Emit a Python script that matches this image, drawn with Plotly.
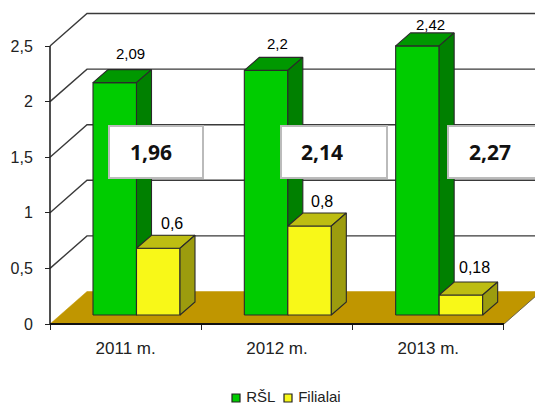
import plotly.graph_objects as go

# ---- data ----
categories = ["2011 m.", "2012 m.", "2013 m."]
rsl_values = [2.09, 2.2, 2.42]
filialai_values = [0.6, 0.8, 0.18]
box_values = ["1,96", "2,14", "2,27"]
y_ticks = [0, 0.5, 1, 1.5, 2, 2.5]
series_names = ["RŠL", "Filialai"]

# ---- geometry in page pixels ----
W, H = 535, 405
X0_PX, Y0_PX = 50, 324
CAT_PX, UNIT_PX = 151.33, 111.2


def xu(px):
    return (px - X0_PX) / CAT_PX


def yu(px):
    return (Y0_PX - px) / UNIT_PX


WALL_DX, WALL_DY = 37 / CAT_PX, 32.5 / UNIT_PX      # depth of the chart box
BAR_DX, BAR_DY = 15 / CAT_PX, 13 / UNIT_PX          # depth of one bar
BASE_DY = 9 / UNIT_PX                               # bars stand slightly back
BAR_LEFT, BAR_W = 43 / CAT_PX, 43.5 / CAT_PX        # green left edge in a category
N = len(categories)

INK = "#2a2a2a"
GRID = "#3a3a3a"
green = dict(front="#00CC00", top="#009800", side="#008000")
yellow = dict(front="#F8F818", top="#BDBD12", side="#9C9C0E")
FLOOR = "#C09600"

fig = go.Figure()


def poly(xs, ys, fill, line=INK, width=1.1):
    fig.add_trace(go.Scatter(
        x=xs + xs[:1], y=ys + ys[:1], mode="lines", fill="toself", fillcolor=fill,
        line=dict(color=line, width=width), showlegend=False, hoverinfo="skip"))


def seg(xs, ys, color=GRID, width=1.4):
    fig.add_trace(go.Scatter(x=xs, y=ys, mode="lines", line=dict(color=color, width=width),
                             showlegend=False, hoverinfo="skip"))


# floor
poly([0, WALL_DX, N + WALL_DX, N], [0, WALL_DY, WALL_DY, 0], FLOOR, line=FLOOR, width=0.5)

# grid on side + back wall
for v in y_ticks[1:]:
    seg([0, WALL_DX, N + WALL_DX], [v, v + WALL_DY, v + WALL_DY])

# axis lines
seg([0, 0], [0, y_ticks[-1]], color="#222222", width=1.6)
seg([0, N], [0, 0], color="#111111", width=1.8)
seg([N, N + WALL_DX], [0, WALL_DY], color="#555555", width=0.8)


def bar(x0, v, c):
    x1 = x0 + BAR_W
    b = BASE_DY
    t = b + v
    poly([x0, x1, x1, x0], [b, b, t, t], c["front"])
    poly([x0, x1, x1 + BAR_DX, x0 + BAR_DX], [t, t, t + BAR_DY, t + BAR_DY], c["top"])
    poly([x1, x1 + BAR_DX, x1 + BAR_DX, x1], [b, b + BAR_DY, t + BAR_DY, t], c["side"])


for i in range(N):
    left = i + BAR_LEFT
    bar(left, rsl_values[i], green)
    bar(left + BAR_W, filialai_values[i], yellow)

# value labels (nudges in px, from the reference)
rsl_nudge = [(16, 16), (11, 14), (13, 8)]
fil_nudge = [(14, 12), (12, 12), (14, 14)]
for i in range(N):
    for k, (vals, nudge) in enumerate([(rsl_values, rsl_nudge), (filialai_values, fil_nudge)]):
        cx = i + BAR_LEFT + BAR_W * (k + 0.5)
        v = vals[i]
        fig.add_annotation(
            x=cx + nudge[i][0] / CAT_PX, y=BASE_DY + v + BAR_DY + nudge[i][1] / UNIT_PX,
            text=str(v).replace(".", ","), showarrow=False, yanchor="middle",
            font=dict(family="Liberation Sans", size=15 if k == 0 else 16, color="#000000"))

# legend: swatch + name, placed as in the reference
legend_px = [236, 288]
LEGEND_Y_PX = 398
for name, px, c in zip(series_names, legend_px, (green, yellow)):
    fig.add_trace(go.Scatter(
        x=[xu(px)], y=[yu(LEGEND_Y_PX)], mode="markers+text", text=[" " + name],
        textposition="middle right", name=name, showlegend=False, hoverinfo="skip",
        textfont=dict(family="Liberation Sans", size=15, color="#222222"),
        marker=dict(symbol="square", size=8, color=c["front"], line=dict(color="#222222", width=1.2)),
        cliponaxis=False))

# white value boxes (px rect, text centre px)
box_rects = [(109, 203, 151), (281, 387, 322), (448, 545, 490)]
BOX_TOP, BOX_BOTTOM = 126, 178
for (x0, x1, tx), label in zip(box_rects, box_values):
    fig.add_shape(type="rect", x0=xu(x0), x1=xu(x1), y0=yu(BOX_BOTTOM), y1=yu(BOX_TOP),
                  fillcolor="white", line=dict(color="#BBBBBB", width=2), layer="above")
    fig.add_annotation(x=xu(tx), y=yu(152), text=f"<b>{label}</b>", showarrow=False,
                       font=dict(family="Open Sans", size=21, color="#111111"))

fig.update_layout(
    width=W, height=H, margin=dict(l=0, r=0, t=0, b=0),
    paper_bgcolor="white", plot_bgcolor="white", showlegend=False,
    xaxis=dict(
        range=[xu(0), xu(W)], domain=[0, 1], anchor="free",
        position=(H - Y0_PX) / H,
        tickmode="array", tickvals=[i + 0.5 for i in range(N)], ticktext=categories,
        ticks="", ticklen=0, showgrid=False, zeroline=False, showline=False,
        tickfont=dict(family="Liberation Sans", size=17, color="#222222"),
        ticklabelstandoff=12,
        minor=dict(tickmode="array", tickvals=list(range(N + 1)), ticks="outside",
                   ticklen=5, tickcolor="#222222", tickwidth=1, showgrid=False),
    ),
    yaxis=dict(
        range=[yu(H), yu(0)], domain=[0, 1], anchor="free",
        position=X0_PX / W,
        tickmode="array", tickvals=y_ticks,
        ticktext=[str(v).replace(".", ",") for v in y_ticks],
        ticks="outside", ticklen=5, tickcolor="#222222", tickwidth=1,
        showgrid=False, zeroline=False, showline=False,
        tickfont=dict(family="Liberation Sans", size=16, color="#222222"),
        ticklabelstandoff=9,
    ),
)

fig.write_html(
    "out.html", config=dict(displayModeBar=False),
    post_script="document.body.style.margin='0';document.documentElement.style.overflow='hidden';",
)
